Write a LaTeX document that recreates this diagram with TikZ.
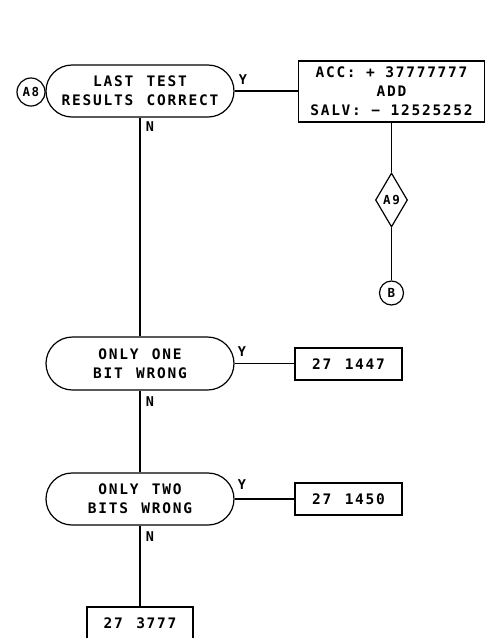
\documentclass[tikz,border=0pt]{standalone}
\usepackage{fontspec}
\newfontfamily\lett{DejaVu Sans Mono Bold}[LetterSpace=12]
\usetikzlibrary{shapes.misc,shapes.geometric}
\newcommand\wgap{\hspace{3pt}}
\begin{document}
\begin{tikzpicture}[x=1pt,y=-1pt,line width=1.2pt,
  txt/.style={font=\lett\fontsize{14.5}{19}\selectfont},
  term/.style={txt,draw,rounded rectangle,minimum width=188pt,minimum height=52pt,inner sep=0pt,align=center},
  opbox/.style={txt,draw,rectangle,inner sep=0pt,minimum height=32pt,align=center},
  conn/.style={font=\lett\fontsize{12.5}{14}\selectfont,draw,circle,minimum size=26pt,inner sep=0pt},
  yn/.style={font=\lett\fontsize{13.5}{16}\selectfont,inner sep=0pt}]
\useasboundingbox (0,0) rectangle (485,638);
% top decision
\node[term] (t1) at (140,91) {LAST \wgap TEST\\RESULTS \wgap CORRECT};
\node[conn,minimum size=28pt] (a8) at (31,92) {A8};
\node[opbox,minimum width=186pt,minimum height=61pt] (acc) at (391.5,91.5)
  {ACC: + 37777777\\ADD\\SALV: − 12525252};
\node[draw,diamond,minimum width=32pt,minimum height=54pt,inner sep=0pt,aspect=0.6,
  font=\lett\fontsize{12.5}{14}\selectfont] (a9) at (391.5,200) {A9};
\node[conn,minimum size=24pt] (b) at (391.5,293) {B};
\node[yn] (y1) at (243,80) {Y};
\node[yn] (n1) at (150,127) {N};
% second decision
\node[term,minimum height=53pt] (t2) at (140,363.5) {ONLY \wgap ONE\\BIT \wgap WRONG};
\node[opbox,minimum width=107pt] (b1447) at (348.5,364) {27 \wgap 1447};
\node[yn] (y2) at (242,352) {Y};
\node[yn] (n2) at (150,402) {N};
% third decision
\node[term] (t3) at (140,499) {ONLY \wgap TWO\\BITS \wgap WRONG};
\node[opbox,minimum width=107pt] (b1450) at (348.5,499) {27 \wgap 1450};
\node[yn] (y3) at (242,485) {Y};
\node[yn] (n3) at (150,537) {N};
% final box
\node[opbox,minimum width=106pt] (b3777) at (140,623) {27 \wgap 3777};
% connectors
\draw (t1.east) -- (t1.east -| acc.west);
\draw (acc.south) -- (a9.north);
\draw (a9.south) -- (b.north);
\draw (t1.south) -- (t2.north);
\draw (t2.east) -- (t2.east -| b1447.west);
\draw (t2.south) -- (t3.north);
\draw (t3.east) -- (t3.east -| b1450.west);
\draw (t3.south) -- (b3777.north);
\end{tikzpicture}
\end{document}
